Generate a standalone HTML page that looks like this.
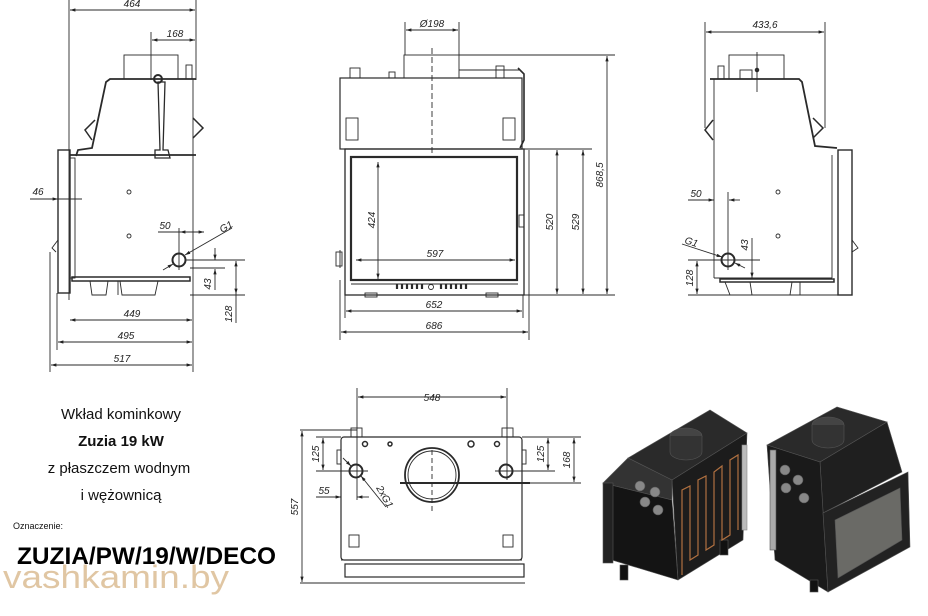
<!DOCTYPE html>
<html><head><meta charset="utf-8"><style>
html,body{margin:0;padding:0;background:#fff;width:928px;height:616px;overflow:hidden}
svg{display:block}
text{font-family:"Liberation Sans",sans-serif}
.d{font-size:10px;font-style:italic;fill:#222}
</style></head><body>
<svg width="928" height="616" viewBox="0 0 928 616" xmlns="http://www.w3.org/2000/svg">
<defs>
<marker id="a" viewBox="0 0 10 10" refX="10" refY="5" markerWidth="6" markerHeight="6" orient="auto-start-reverse"><path d="M0,2 L10,5 L0,8 z" fill="#222"/></marker>
</defs>
<g stroke="#2a2a2a" fill="none" stroke-width="0.9">
<!-- LEFT VIEW -->
<line x1="69" y1="0" x2="69" y2="300"/><line x1="196" y1="0" x2="196" y2="80"/>
<line x1="70" y1="10" x2="195" y2="10" marker-start="url(#a)" marker-end="url(#a)"/>
<line x1="151" y1="32" x2="151" y2="80"/>
<line x1="152" y1="40" x2="195" y2="40" marker-start="url(#a)" marker-end="url(#a)"/>
<rect x="124" y="55" width="54" height="24"/>
<path d="M196,79 L110,79 L106,82 L92,148 L78,150 L76,156" stroke-width="1.8"/>
<path d="M95,120 L85,130 L92,140" stroke-width="1.5"/>
<path d="M193,118 L203,128 L193,138" stroke-width="1.5"/>
<line x1="193" y1="79" x2="193" y2="293"/>
<line x1="70" y1="155" x2="196" y2="155" stroke-width="1.8"/>
<rect x="70" y="158" width="5" height="120"/>
<rect x="58" y="150" width="12" height="143" stroke-width="1.4"/>
<path d="M58,240 L52,248 L56,252"/>
<path d="M158,82 L160,150 L155,150 L155,158 L170,158 L168,150 L163,150 L165,82 z" stroke-width="1.3"/>
<circle cx="158" cy="79" r="4" stroke-width="2"/>
<rect x="186" y="65" width="6" height="14"/>
<rect x="72" y="277" width="118" height="4" stroke-width="1.5"/>
<path d="M90,281 L92,295 L106,295 L108,281 M118,281 L118,295 M120,281 L122,295 L155,295 L158,281"/>
<circle cx="129" cy="192" r="2"/><circle cx="129" cy="236" r="2"/>
<circle cx="179" cy="260" r="6.5" stroke-width="2"/>
<line x1="179" y1="228" x2="179" y2="270"/>
<line x1="158" y1="232" x2="204" y2="232" marker-end="url(#a)"/>
<line x1="204" y1="232" x2="180" y2="232" marker-end="url(#a)"/>
<line x1="232" y1="228" x2="185" y2="255" marker-end="url(#a)"/>
<line x1="163" y1="270" x2="173" y2="264" marker-end="url(#a)"/>
<line x1="185" y1="260" x2="245" y2="260"/><line x1="190" y1="268" x2="225" y2="268"/><line x1="190" y1="295" x2="245" y2="295"/>
<line x1="215" y1="248" x2="215" y2="260" marker-end="url(#a)"/>
<line x1="215" y1="290" x2="215" y2="269" marker-end="url(#a)"/>
<line x1="236" y1="261" x2="236" y2="294" marker-start="url(#a)" marker-end="url(#a)"/>
<line x1="236" y1="294" x2="236" y2="323"/>
<line x1="30" y1="199" x2="58" y2="199" marker-end="url(#a)"/><line x1="58" y1="199" x2="82" y2="199"/>
<line x1="57" y1="293" x2="57" y2="350"/><line x1="50" y1="252" x2="50" y2="372"/><line x1="193" y1="293" x2="193" y2="372"/>
<line x1="70" y1="320" x2="192" y2="320" marker-start="url(#a)" marker-end="url(#a)"/>
<line x1="58" y1="342" x2="192" y2="342" marker-start="url(#a)" marker-end="url(#a)"/>
<line x1="51" y1="365" x2="192" y2="365" marker-start="url(#a)" marker-end="url(#a)"/>

<!-- FRONT VIEW -->
<line x1="405" y1="22" x2="405" y2="55"/><line x1="459" y1="22" x2="459" y2="55"/>
<line x1="406" y1="30" x2="458" y2="30" marker-start="url(#a)" marker-end="url(#a)"/>
<rect x="404" y="55" width="55" height="23"/>
<line x1="432" y1="48" x2="432" y2="153" stroke-dasharray="6,3"/>
<rect x="340" y="78" width="182" height="71" stroke-width="1.2"/>
<rect x="350" y="68" width="10" height="10"/><rect x="389" y="72" width="6" height="6"/><rect x="496" y="66" width="8" height="12"/>
<line x1="459" y1="70" x2="520" y2="70"/><path d="M518,68 L524,74 L524,140 L520,148" stroke-width="1.6"/>
<rect x="346" y="118" width="12" height="22"/><rect x="503" y="118" width="12" height="22"/>
<rect x="345" y="149" width="179" height="146" stroke-width="1.3"/>
<rect x="351" y="157" width="166" height="123" stroke-width="2.2"/>
<line x1="340" y1="250" x2="340" y2="268"/><rect x="336" y="252" width="6" height="14"/>
<rect x="519" y="215" width="5" height="12"/>
<line x1="378" y1="162" x2="378" y2="279" marker-start="url(#a)" marker-end="url(#a)"/>
<line x1="356" y1="260" x2="515" y2="260" marker-start="url(#a)" marker-end="url(#a)"/>
<line x1="351" y1="284" x2="518" y2="284"/>
<g stroke-width="2.2"><line x1="397" y1="284" x2="397" y2="289"/><line x1="402" y1="284" x2="402" y2="289"/><line x1="407" y1="284" x2="407" y2="289"/><line x1="412" y1="284" x2="412" y2="289"/><line x1="417" y1="284" x2="417" y2="289"/><line x1="422" y1="284" x2="422" y2="289"/><line x1="441" y1="284" x2="441" y2="289"/><line x1="446" y1="284" x2="446" y2="289"/><line x1="451" y1="284" x2="451" y2="289"/><line x1="456" y1="284" x2="456" y2="289"/><line x1="461" y1="284" x2="461" y2="289"/><line x1="466" y1="284" x2="466" y2="289"/></g>
<circle cx="431" cy="287" r="2.5"/>
<rect x="365" y="293" width="12" height="4"/><rect x="486" y="293" width="12" height="4"/>
<line x1="345" y1="295" x2="345" y2="318"/><line x1="523" y1="295" x2="523" y2="318"/>
<line x1="340" y1="280" x2="340" y2="340"/><line x1="529" y1="150" x2="529" y2="340"/>
<line x1="346" y1="311" x2="522" y2="311" marker-start="url(#a)" marker-end="url(#a)"/>
<line x1="341" y1="332" x2="528" y2="332" marker-start="url(#a)" marker-end="url(#a)"/>
<line x1="524" y1="149" x2="592" y2="149"/><line x1="459" y1="55" x2="615" y2="55"/><line x1="512" y1="295" x2="615" y2="295"/>
<line x1="557" y1="150" x2="557" y2="294" marker-start="url(#a)" marker-end="url(#a)"/>
<line x1="583" y1="150" x2="583" y2="294" marker-start="url(#a)" marker-end="url(#a)"/>
<line x1="607" y1="56" x2="607" y2="294" marker-start="url(#a)" marker-end="url(#a)"/>

<!-- RIGHT VIEW -->
<line x1="705" y1="22" x2="705" y2="128"/><line x1="825" y1="22" x2="825" y2="128"/>
<line x1="706" y1="32" x2="824" y2="32" marker-start="url(#a)" marker-end="url(#a)"/>
<rect x="729" y="55" width="55" height="24"/><rect x="740" y="70" width="12" height="9"/>
<circle cx="757" cy="70" r="1.8" fill="#333"/><line x1="757" y1="52" x2="757" y2="92"/>
<rect x="718" y="66" width="6" height="13"/>
<path d="M710,79 L799,79 L802,82 L815,146 L837,148" stroke-width="1.8"/>
<path d="M713,120 L705,130 L713,140" stroke-width="1.5"/><path d="M813,118 L823,128 L813,138" stroke-width="1.5"/>
<line x1="714" y1="79" x2="714" y2="278"/>
<line x1="714" y1="278" x2="832" y2="278"/>
<line x1="832" y1="155" x2="832" y2="278"/>
<rect x="838" y="150" width="14" height="145" stroke-width="1.4"/>
<path d="M852,240 L858,248 L852,252"/>
<rect x="720" y="279" width="114" height="3" stroke-width="1.5"/>
<path d="M725,282 L730,295 M750,282 L752,295 L790,295 L792,282 M800,282 L800,295"/>
<circle cx="778" cy="192" r="2"/><circle cx="778" cy="236" r="2"/>
<circle cx="728" cy="260" r="6.5" stroke-width="2"/>
<line x1="728" y1="192" x2="728" y2="270"/>
<line x1="688" y1="200" x2="714" y2="200" marker-end="url(#a)"/><line x1="740" y1="200" x2="729" y2="200" marker-end="url(#a)"/>
<line x1="682" y1="244" x2="722" y2="257" marker-end="url(#a)"/><line x1="745" y1="268" x2="735" y2="263" marker-end="url(#a)"/>
<line x1="688" y1="260" x2="760" y2="260"/><line x1="688" y1="295" x2="840" y2="295"/>
<line x1="697" y1="261" x2="697" y2="294" marker-start="url(#a)" marker-end="url(#a)"/>
<line x1="752" y1="238" x2="752" y2="278" marker-end="url(#a)"/>

<!-- BOTTOM VIEW -->
<line x1="357" y1="388" x2="357" y2="500"/><line x1="507" y1="388" x2="507" y2="480"/>
<line x1="358" y1="397" x2="506" y2="397" marker-start="url(#a)" marker-end="url(#a)"/>
<rect x="341" y="437" width="181" height="123" rx="3" stroke-width="1.2"/>
<rect x="351" y="428" width="11" height="9"/><rect x="502" y="428" width="11" height="9"/>
<rect x="337" y="450" width="4" height="14"/><rect x="522" y="450" width="4" height="14"/>
<circle cx="432" cy="475" r="27" stroke-width="1.8"/><circle cx="432" cy="475" r="24"/>
<line x1="432" y1="450" x2="432" y2="512" stroke-dasharray="5,3"/>
<line x1="400" y1="483" x2="530" y2="483" stroke-width="2"/>
<circle cx="356" cy="471" r="6.5" stroke-width="2"/><circle cx="506" cy="471" r="6.5" stroke-width="2"/>
<circle cx="365" cy="444" r="2.5" stroke-width="1.5"/><circle cx="390" cy="444" r="2" stroke-width="1.5"/><circle cx="471" cy="444" r="3" stroke-width="1.5"/><circle cx="497" cy="444" r="2.5" stroke-width="1.5"/>
<rect x="349" y="535" width="10" height="12"/><rect x="503" y="535" width="10" height="12"/>
<rect x="345" y="564" width="179" height="13" stroke-width="1.2"/>
<line x1="341" y1="560" x2="522" y2="560"/>
<line x1="300" y1="430" x2="357" y2="430"/><line x1="300" y1="583" x2="525" y2="583"/>
<line x1="302" y1="431" x2="302" y2="582" marker-start="url(#a)" marker-end="url(#a)"/>
<line x1="316" y1="437" x2="341" y2="437"/><line x1="316" y1="471" x2="368" y2="471"/>
<line x1="323" y1="438" x2="323" y2="470" marker-start="url(#a)" marker-end="url(#a)"/>
<line x1="522" y1="437" x2="581" y2="437"/><line x1="495" y1="471" x2="555" y2="471"/><line x1="522" y1="483" x2="581" y2="483"/>
<line x1="548" y1="438" x2="548" y2="470" marker-start="url(#a)" marker-end="url(#a)"/>
<line x1="574" y1="438" x2="574" y2="482" marker-start="url(#a)" marker-end="url(#a)"/>
<line x1="316" y1="497" x2="341" y2="497" marker-end="url(#a)"/><line x1="369" y1="497" x2="357" y2="497" marker-end="url(#a)"/>
<line x1="386" y1="507" x2="361" y2="476" marker-end="url(#a)"/><line x1="343" y1="458" x2="351" y2="466" marker-end="url(#a)"/>
</g>

<!-- dim texts -->
<text class="d" x="132" y="7" text-anchor="middle">464</text>
<text class="d" x="175" y="37" text-anchor="middle">168</text>
<text class="d" x="38" y="195" text-anchor="middle">46</text>
<text class="d" x="165" y="229" text-anchor="middle">50</text>
<text class="d" x="222" y="233" transform="rotate(-30 222 233)">G1</text>
<text class="d" x="211" y="284" transform="rotate(-90 211 284)" text-anchor="middle">43</text>
<text class="d" x="232" y="314" transform="rotate(-90 232 314)" text-anchor="middle">128</text>
<text class="d" x="132" y="317" text-anchor="middle">449</text>
<text class="d" x="126" y="339" text-anchor="middle">495</text>
<text class="d" x="122" y="362" text-anchor="middle">517</text>
<text class="d" x="432" y="27" text-anchor="middle">Ø198</text>
<text class="d" x="375" y="220" transform="rotate(-90 375 220)" text-anchor="middle">424</text>
<text class="d" x="435" y="257" text-anchor="middle">597</text>
<text class="d" x="434" y="308" text-anchor="middle">652</text>
<text class="d" x="434" y="329" text-anchor="middle">686</text>
<text class="d" x="553" y="222" transform="rotate(-90 553 222)" text-anchor="middle">520</text>
<text class="d" x="579" y="222" transform="rotate(-90 579 222)" text-anchor="middle">529</text>
<text class="d" x="603" y="175" transform="rotate(-90 603 175)" text-anchor="middle">868,5</text>
<text class="d" x="765" y="28" text-anchor="middle">433,6</text>
<text class="d" x="696" y="197" text-anchor="middle">50</text>
<text class="d" x="684" y="243" transform="rotate(18 684 243)">G1</text>
<text class="d" x="748" y="245" transform="rotate(-90 748 245)" text-anchor="middle">43</text>
<text class="d" x="693" y="278" transform="rotate(-90 693 278)" text-anchor="middle">128</text>
<text class="d" x="432" y="401" text-anchor="middle">548</text>
<text class="d" x="298" y="507" transform="rotate(-90 298 507)" text-anchor="middle">557</text>
<text class="d" x="319" y="454" transform="rotate(-90 319 454)" text-anchor="middle">125</text>
<text class="d" x="544" y="454" transform="rotate(-90 544 454)" text-anchor="middle">125</text>
<text class="d" x="570" y="460" transform="rotate(-90 570 460)" text-anchor="middle">168</text>
<text class="d" x="324" y="494" text-anchor="middle">55</text>
<text class="d" x="376" y="488" transform="rotate(60 376 488)">2xG1</text>

<!-- title texts -->
<text x="121" y="419" font-size="15" text-anchor="middle" fill="#111">Wkład kominkowy</text>
<text x="121" y="446" font-size="15" font-weight="bold" text-anchor="middle" fill="#111">Zuzia 19 kW</text>
<text x="119" y="473" font-size="15" text-anchor="middle" fill="#111">z płaszczem wodnym</text>
<text x="121" y="500" font-size="15" text-anchor="middle" fill="#111">i wężownicą</text>
<text x="13" y="529" font-size="9" fill="#111">Oznaczenie:</text>
<text x="17" y="564" font-size="24" font-weight="bold" fill="#000" textLength="259" lengthAdjust="spacingAndGlyphs">ZUZIA/PW/19/W/DECO</text>
<text x="3" y="588" font-size="32" fill="#d8b88c" fill-opacity="0.8" font-family="DejaVu Sans,sans-serif" textLength="226" lengthAdjust="spacingAndGlyphs">vashkamin.by</text>

<!-- 3D left unit -->
<g stroke="#555" stroke-width="0.6">
<polygon points="628,458 710,410 747,433 672,480" fill="#2a2a2a"/>
<polygon points="672,480 747,433 743,540 678,580" fill="#1c1c1c"/>
<polygon points="603,483 628,458 672,480 672,500" fill="#333"/>
<polygon points="603,483 672,500 678,580 612,560" fill="#141414"/>
<rect x="603" y="483" width="10" height="80" fill="#222"/>
<rect x="620" y="565" width="8" height="15" fill="#111"/><rect x="720" y="540" width="8" height="15" fill="#111"/>
<ellipse cx="686" cy="436" rx="16" ry="8" fill="#444"/><path d="M670,436 L670,452 A16,8 0 0 0 702,452 L702,436" fill="#333"/>
<circle cx="640" cy="486" r="5" fill="#888"/><circle cx="655" cy="492" r="5" fill="#888"/><circle cx="645" cy="502" r="5" fill="#888"/><circle cx="658" cy="510" r="5" fill="#888"/>
<path d="M682,575 L682,490 L690,486 L690,560 L698,555 L698,480 L706,476 L706,550 L714,545 L714,472 L722,466 L722,540 L730,535 L730,460 L738,455 L738,530" stroke="#b07040" stroke-width="1.2" fill="none"/>
<rect x="742" y="445" width="5" height="85" fill="#bbb" stroke="#888"/>
</g>
<!-- 3D right unit -->
<g stroke="#555" stroke-width="0.6">
<polygon points="767,445 837,407 887,422 820,462" fill="#2a2a2a"/>
<polygon points="820,462 887,422 902,472 823,513" fill="#1f1f1f"/>
<polygon points="767,445 820,462 828,592 775,560" fill="#1a1a1a"/>
<polygon points="823,513 908,472 910,547 828,592" fill="#222"/>
<polygon points="835,520 900,488 902,540 838,578" fill="#6a6a66"/>
<rect x="770" y="450" width="6" height="100" fill="#aaa"/>
<ellipse cx="828" cy="425" rx="16" ry="8" fill="#444"/><path d="M812,425 L812,440 A16,8 0 0 0 844,440 L844,425" fill="#333"/>
<circle cx="785" cy="470" r="5" fill="#888"/><circle cx="798" cy="480" r="5" fill="#888"/><circle cx="786" cy="488" r="5" fill="#888"/><circle cx="804" cy="498" r="5" fill="#888"/>
<rect x="810" y="580" width="8" height="12" fill="#111"/>
</g>
</svg>
</body></html>
